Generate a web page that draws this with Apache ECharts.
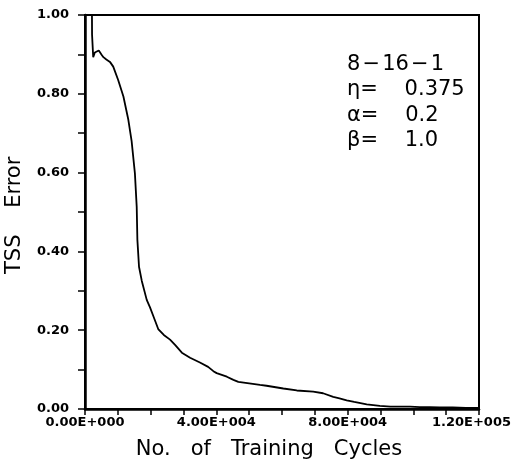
<!DOCTYPE html>
<html>
<head>
<meta charset="utf-8">
<script src="https://cdn.jsdelivr.net/npm/echarts@6/dist/echarts.min.js"></script>
<style>
html,body{margin:0;padding:0;background:#fff;}
#chart{width:517px;height:465px;}
</style>
</head>
<body>
<div id="chart"></div>
<script>
// ---- data ----
const cycles = [0, 2000, 2150, 2500, 3000, 3600, 4200, 4600, 5000, 5600, 6500, 7600, 8600, 10100, 11700, 13200, 14200, 15200, 15750, 15950, 16450, 17300, 18800, 19800, 20800, 22300, 24000, 25900, 27500, 29500, 32000, 35000, 37500, 39100, 40100, 43200, 45200, 46700, 50000, 53300, 55300, 60400, 64500, 69500, 72500, 75600, 77500, 79700, 82000, 85800, 89800, 93000, 96000, 99000, 102000, 105000, 108000, 112000, 116000, 120000];
const tssError = [1.8, 1.2, 0.95, 0.893, 0.905, 0.902, 0.91, 0.908, 0.9, 0.893, 0.887, 0.881, 0.869, 0.835, 0.793, 0.734, 0.68, 0.598, 0.513, 0.43, 0.361, 0.325, 0.277, 0.258, 0.236, 0.203, 0.188, 0.176, 0.162, 0.143, 0.130, 0.118, 0.107, 0.096, 0.091, 0.082, 0.074, 0.069, 0.065, 0.061, 0.059, 0.052, 0.047, 0.044, 0.040, 0.031, 0.027, 0.022, 0.018, 0.012, 0.008, 0.006, 0.006, 0.006, 0.005, 0.005, 0.004, 0.004, 0.003, 0.003];

const xTickValues = [0, 40000, 80000, 120000];
const xTickLabels = ['0.00E+000', '4.00E+004', '8.00E+004', '1.20E+005'];
const yTickValues = [0, 0.2, 0.4, 0.6, 0.8, 1.0];
const yTickLabels = ['0.00', '0.20', '0.40', '0.60', '0.80', '1.00'];

const xTitle = 'No.   of   Training   Cycles';
const yTitle = 'TSS    Error';
const annotationLines = ['8\u200A\u2212\u200A16\u200A\u2212\u200A1', '\u03B7=    0.375', '\u03B1=    0.2', '\u03B2=    1.0'];

// ---- chart ----
const chart = echarts.init(document.getElementById('chart'), null, {renderer: 'canvas'});
const labelFont = {fontFamily: 'DejaVu Sans', fontWeight: 'bold', fontSize: 13, color: '#000'};
const titleFont = {fontFamily: 'DejaVu Sans', fontWeight: 'normal', fontSize: 21, color: '#000'};

function findLabel(vals, labels, v) {
  for (let i = 0; i < vals.length; i++) {
    if (Math.abs(vals[i] - v) < 1e-9) return labels[i];
  }
  return '';
}

const annotationGraphics = annotationLines.map((t, i) => ({
  type: 'text',
  left: 347,
  top: 54 + i * 25.5,
  style: {text: t, font: 'normal 21px "DejaVu Sans"', fill: '#000'}
}));

chart.setOption({
  animation: false,
  backgroundColor: '#fff',
  grid: {left: 85, right: 38, top: 15, bottom: 56, show: true, borderColor: '#000', borderWidth: 2, containLabel: false, outerBoundsMode: 'none'},
  xAxis: {
    type: 'value', min: 0, max: 120000, interval: 10000,
    name: xTitle + '{pad|}', nameLocation: 'middle', nameGap: 30, nameMoveOverlap: false,
    nameTextStyle: Object.assign({}, titleFont, {
      rich: {pad: {width: 26}}
    }),
    axisLine: {show: true, onZero: false, lineStyle: {color: '#000', width: 2.5}},
    axisTick: {show: true, inside: false, length: 6, lineStyle: {color: '#000', width: 1.5}},
    splitLine: {show: false},
    axisLabel: Object.assign({}, labelFont, {
      margin: 7, showMaxLabel: true, showMinLabel: true, hideOverlap: false,
      formatter: v => {
        const s = findLabel(xTickValues, xTickLabels, v);
        if (s && v === xTickValues[xTickValues.length - 1]) return '{r|' + s + '}';
        return s;
      },
      rich: {r: Object.assign({}, labelFont, {padding: [0, 15, 0, 0]})}
    })
  },
  yAxis: {
    type: 'value', min: 0, max: 1, interval: 0.1,
    name: yTitle + ' ', nameLocation: 'middle', nameGap: 60, nameRotate: 90, nameMoveOverlap: false,
    nameTextStyle: titleFont,
    axisLine: {show: true, onZero: false, lineStyle: {color: '#000', width: 2.5}},
    axisTick: {show: true, inside: false, length: 7, lineStyle: {color: '#000', width: 1.5}},
    splitLine: {show: false},
    axisLabel: Object.assign({}, labelFont, {
      margin: 16,
      formatter: v => findLabel(yTickValues, yTickLabels, v)
    })
  },
  graphic: annotationGraphics,
  series: [{
    type: 'line',
    data: cycles.map((c, i) => [c, tssError[i]]),
    showSymbol: false,
    symbol: 'none',
    clip: true,
    lineStyle: {color: '#000', width: 1.8},
    silent: true
  }]
});
</script>
</body>
</html>
